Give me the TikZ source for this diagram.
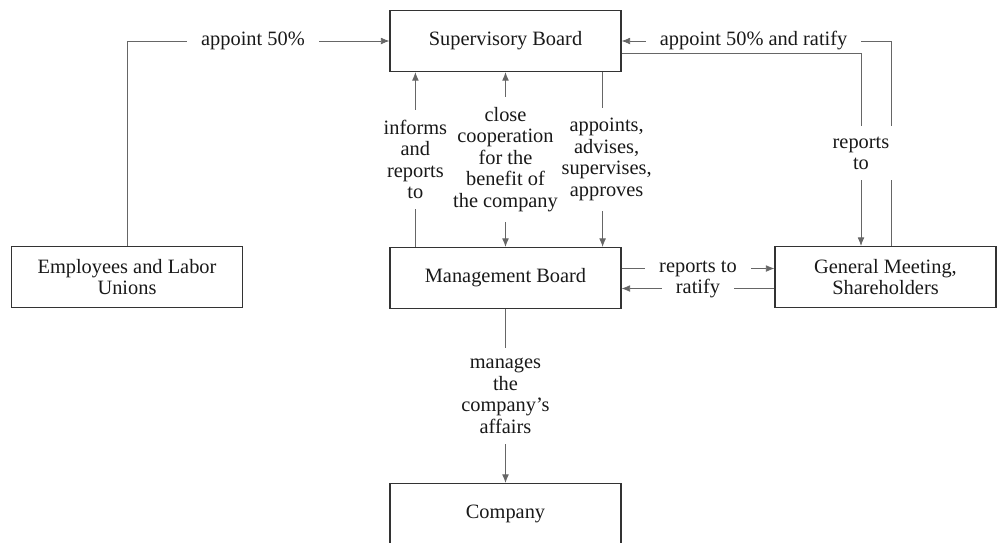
\documentclass[tikz,border=0pt]{standalone}
\usepackage{fontspec}
\setmainfont{Liberation Serif}
\usetikzlibrary{arrows.meta,positioning,calc}
\tikzstyle{block} = [rectangle, draw=black!80, line width=0.7pt, text=black!90,
    minimum width=4.62cm, minimum height=1.22cm, align=center, inner sep=2pt]
\tikzstyle{lbl} = [fill=white, text=black!90, align=center, inner xsep=2pt, inner ysep=6pt]
\tikzstyle{hlbl} = [lbl, inner xsep=8pt, inner ysep=1pt]

\begin{document}
\begin{tikzpicture}[->,>={Latex[length=4.8pt,width=3.8pt]},node distance=4.74cm,
                    thin,draw=black!60,
                    font=\fontsize{11.6}{12.2}\selectfont]
  \useasboundingbox (0,0) rectangle (19.94,-10.84);
  \node[block] (sb) at (10.11,-0.82) {Supervisory Board};
  \node[block,below of=sb] (mb) {Management Board};
  \node[block,below of=mb,yshift=0.02cm] (co) {Company};
  \node[block,node distance=7.57cm,left of=mb,yshift=0.02cm] (emp) {Employees and Labor\\Unions};
  \node[block,node distance=7.6cm,right of=mb,yshift=0.02cm,minimum width=4.42cm] (gm) {General Meeting,\\Shareholders};

  \draw (emp.north) |- node[hlbl,pos=0.74] {appoint 50\%} (sb.west);
  \draw ([xshift=0.11cm]gm.north) |- node[hlbl,pos=0.755] {appoint 50\% and ratify} (sb.east);
  \draw ([yshift=-0.24cm]sb.east) -| node[lbl,pos=0.76] {reports\\to} ([xshift=-0.49cm]gm.north);
  \draw ([xshift=0.52cm]mb.north west) -- node[lbl] {informs\\and\\reports\\to} ([xshift=0.52cm]sb.south west);
  \draw ([xshift=-0.38cm]sb.south east) -- node[lbl,xshift=0.08cm] {appoints,\\advises,\\supervises,\\approves} ([xshift=-0.38cm]mb.north east);
  \draw[<->] (sb.south) -- node[lbl,inner xsep=0pt] {close\\cooperation\\for the\\benefit of\\the company} (mb.north);
  \draw ([yshift=0.19cm]mb.east) -- node[hlbl] {reports to} ([yshift=0.19cm]mb.east -| gm.west);
  \draw ([yshift=-0.21cm]mb.east -| gm.west) -- node[hlbl] {ratify} ([yshift=-0.21cm]mb.east);
  \draw (mb.south) -- node[lbl] {manages\\the\\company’s\\affairs} (co.north); % to the company
\end{tikzpicture}
\end{document}
